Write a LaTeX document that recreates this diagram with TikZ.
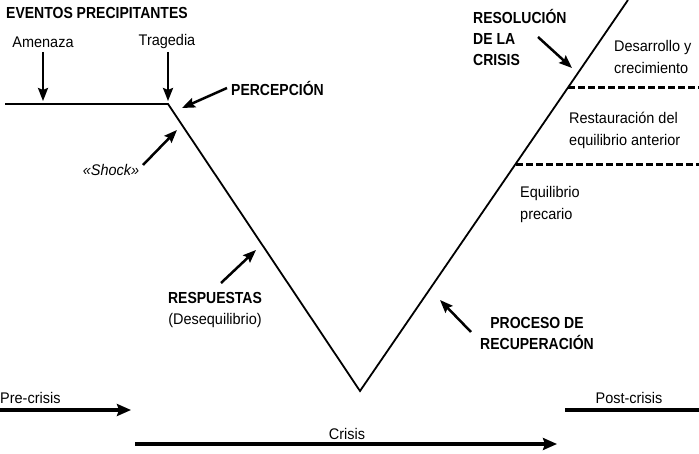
\documentclass[tikz,border=0pt]{standalone}
\usepackage{fontspec}
\setmainfont[FakeStretch=0.94]{Liberation Sans}
\newfontfamily\hbfont[FakeStretch=0.875]{Liberation Sans}
\usetikzlibrary{arrows.meta}
\tikzset{
  lbl/.style={inner sep=0pt, font=\fontsize{15.4}{22}\selectfont},
  hlbl/.style={inner sep=0pt, font=\hbfont\bfseries\fontsize{16}{21}\selectfont},
  pointer/.style={line width=2.5pt, -{Stealth[length=13pt,width=10pt,inset=2pt]}},
  curve/.style={line width=1.8pt, line join=miter},
  timeline/.style={line width=4pt},
  tarrow/.style={line width=4pt, -{Stealth[length=14pt,width=12pt,inset=2pt]}},
  level/.style={line width=3pt, dash pattern=on 6.5pt off 3.5pt},
}
\begin{document}
\begin{tikzpicture}[x=1pt,y=-1pt]
\useasboundingbox (0,0) rectangle (699,454);
% main curve
\coordinate (c0) at (5,104);
\coordinate (knee) at (168,104);
\coordinate (bottom) at (360,391);
\coordinate (top) at (628,0);
\draw[curve] (c0) -- (knee) -- (bottom) -- (top);
% levels
\coordinate (d1a) at (568,88);  \coordinate (d1b) at (699,88);
\coordinate (d2a) at (516,165); \coordinate (d2b) at (699,165);
\draw[level] (d1a) -- (d1b);
\draw[level] (d2a) -- (d2b);
% labels
\node[hlbl, anchor=west] (ev) at (6,13) {EVENTOS PRECIPITANTES};
\node[lbl] (amen) at (43,42) {Amenaza};
\node[lbl] (trag) at (167,42) {Tragedia};
\node[hlbl, anchor=west] (perc) at (231,88) {PERCEPCIÓN};
\node[lbl, font=\fontsize{15.4}{22}\selectfont\itshape] (shock) at (111,170) {«Shock»};
\node[hlbl] (resp) at (215,298) {RESPUESTAS};
\node[lbl] (deseq) at (215,321) {(Desequilibrio)};
\node[hlbl, anchor=west, align=left] (resol) at (473,37) {RESOLUCIÓN\\DE LA\\CRISIS};
\node[lbl, anchor=west, align=left] (desa) at (614,57) {Desarrollo y\\crecimiento};
\node[lbl, anchor=west, align=left] (rest) at (569,130) {Restauración del\\equilibrio anterior};
\node[lbl, anchor=west, align=left] (equi) at (520,205) {Equilibrio\\precario};
\node[hlbl, align=center] (proc) at (537,333) {PROCESO DE\\RECUPERACIÓN};
\node[lbl, anchor=west] (pre) at (0,398) {Pre-crisis};
\node[lbl] (post) at (629,398) {Post-crisis};
\node[lbl] (crisis) at (347,434) {Crisis};
% pointer arrows
\coordinate (a1s) at (43,52);   \coordinate (a1e) at (43,101);
\coordinate (a2s) at (168,52);  \coordinate (a2e) at (168,101);
\coordinate (a3s) at (227,88);  \coordinate (a3e) at (182,108);
\coordinate (a4s) at (143,165); \coordinate (a4e) at (177,130);
\coordinate (a5s) at (221,283); \coordinate (a5e) at (256,250);
\coordinate (a6s) at (538,37);  \coordinate (a6e) at (572,68);
\coordinate (a7s) at (471,332); \coordinate (a7e) at (440,300);
\draw[pointer] (a1s) -- (a1e);
\draw[pointer] (a2s) -- (a2e);
\draw[pointer] (a3s) -- (a3e);
\draw[pointer] (a4s) -- (a4e);
\draw[pointer] (a5s) -- (a5e);
\draw[pointer] (a6s) -- (a6e);
\draw[pointer] (a7s) -- (a7e);
% timeline
\coordinate (p0) at (0,410);   \coordinate (p1) at (131,410);
\coordinate (q0) at (565,410); \coordinate (q1) at (699,410);
\coordinate (r0) at (135,444); \coordinate (r1) at (557,444);
\draw[tarrow] (p0) -- (p1);
\draw[timeline] (q0) -- (q1);
\draw[tarrow] (r0) -- (r1);
\end{tikzpicture}
\end{document}
